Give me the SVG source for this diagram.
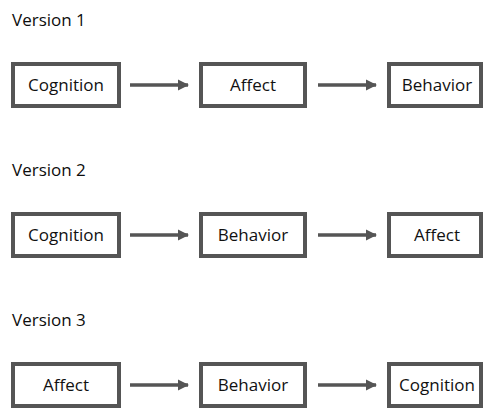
<svg xmlns="http://www.w3.org/2000/svg" width="486" height="412" viewBox="0 0 486 412">
  <style>
    .title { font-family: "Open Sans", "Liberation Sans", sans-serif; font-size: 17px; fill: #0d0d0d; }
    .box rect { fill: #fff; stroke: #555; stroke-width: 4; }
    .box text { font-family: "Open Sans", "Liberation Sans", sans-serif; font-size: 17px; fill: #111; text-anchor: middle; }
    .link { stroke: #555; stroke-width: 3.5; fill: none; marker-end: url(#head); }
  </style>
  <defs>
    <marker id="head" viewBox="0 0 10 10" refX="9" refY="5" markerWidth="3.2" markerHeight="3.2" orient="auto" markerUnits="strokeWidth">
      <path d="M0,0 L10,5 L0,10 Z" fill="#555"/>
    </marker>
  </defs>
  <rect width="486" height="412" fill="#fff"/>

  <text class="title" x="12" y="26">Version 1</text>
  <text class="title" x="12" y="176">Version 2</text>
  <text class="title" x="12" y="326">Version 3</text>

  <!-- Version 1 -->
  <g id="v1-cognition" class="box"><rect x="13" y="64" width="106" height="42"/><text x="66" y="91">Cognition</text></g>
  <g id="v1-affect" class="box"><rect x="201" y="64" width="104" height="42"/><text x="253" y="91">Affect</text></g>
  <g id="v1-behavior" class="box"><rect x="389" y="64" width="92" height="42"/><text x="437" y="91">Behavior</text></g>

  <!-- Version 2 -->
  <g id="v2-cognition" class="box"><rect x="13" y="214" width="106" height="42"/><text x="66" y="241">Cognition</text></g>
  <g id="v2-behavior" class="box"><rect x="201" y="214" width="104" height="42"/><text x="253" y="241">Behavior</text></g>
  <g id="v2-affect" class="box"><rect x="389" y="214" width="92" height="42"/><text x="437" y="241">Affect</text></g>

  <!-- Version 3 -->
  <g id="v3-affect" class="box"><rect x="13" y="364" width="106" height="42"/><text x="66" y="391">Affect</text></g>
  <g id="v3-behavior" class="box"><rect x="201" y="364" width="104" height="42"/><text x="253" y="391">Behavior</text></g>
  <g id="v3-cognition" class="box"><rect x="389" y="364" width="92" height="42"/><text x="437" y="391">Cognition</text></g>

  <g id="connectors">
    <line class="link" x1="130" y1="85" x2="188" y2="85"/>
    <line class="link" x1="318" y1="85" x2="376" y2="85"/>
    <line class="link" x1="130" y1="235" x2="188" y2="235"/>
    <line class="link" x1="318" y1="235" x2="376" y2="235"/>
    <line class="link" x1="130" y1="385" x2="188" y2="385"/>
    <line class="link" x1="318" y1="385" x2="376" y2="385"/>
  </g>
</svg>
